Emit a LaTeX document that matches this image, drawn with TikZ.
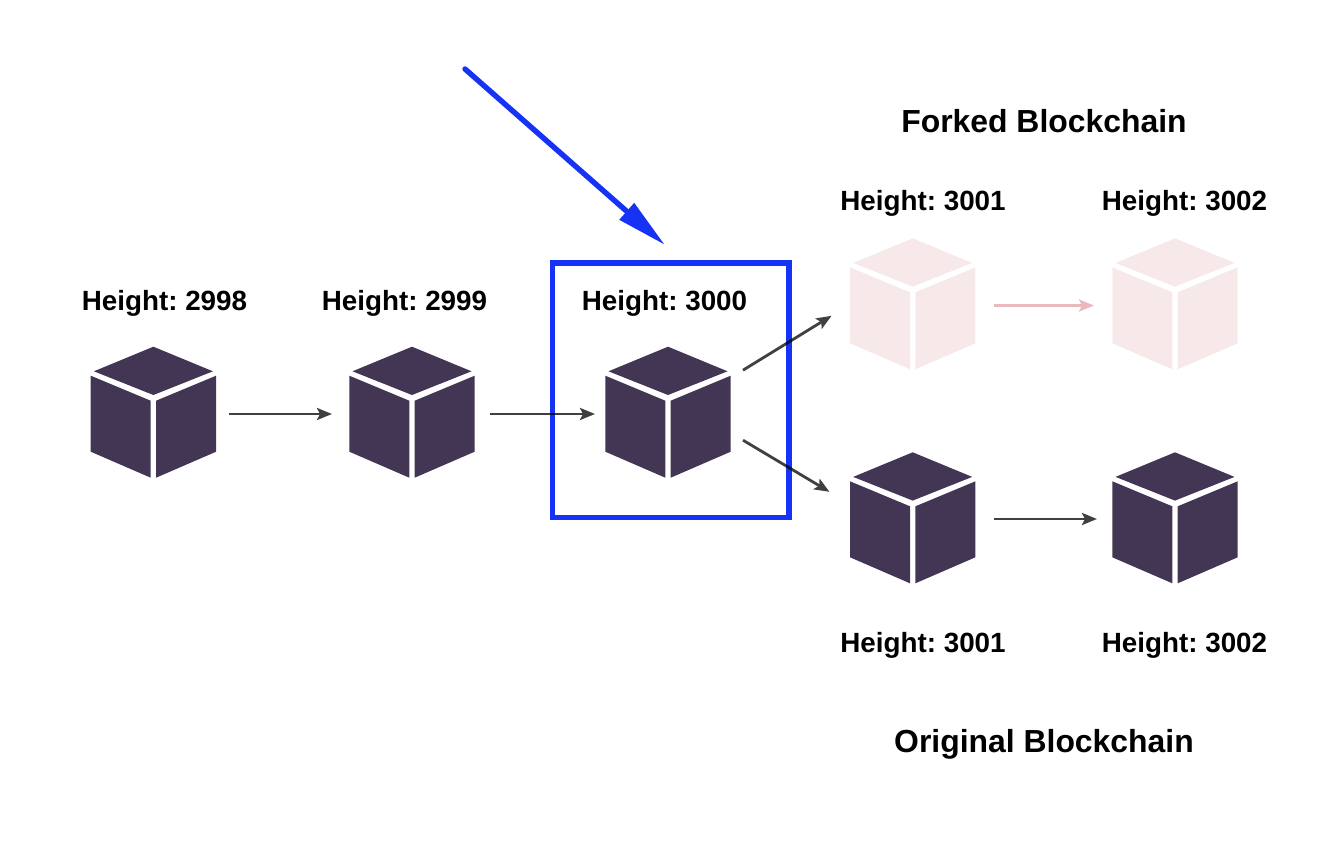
\documentclass[tikz,border=0pt]{standalone}
\usepackage{fontspec}
\setmainfont{Liberation Sans}
\usetikzlibrary{arrows.meta}
\definecolor{cubedark}{HTML}{433655}
\definecolor{cubepale}{HTML}{F7E9EA}
\definecolor{linkdark}{HTML}{404040}
\definecolor{linkpale}{HTML}{E9B9BD}
\definecolor{markblue}{HTML}{1633F5}
\tikzset{
  x=1pt,y=-1pt,
  cubeicon/.pic={
    \fill[pic actions] (0,-65.5) -- (59.5,-40.9) -- (0,-17.2) -- (-59.5,-40.9) -- cycle;
    \fill[pic actions] (-62.7,-36.5) -- (-2.7,-11.5) -- (-2.7,65.5) -- (-62.7,39.5) -- cycle;
    \fill[pic actions] (62.7,-36.5) -- (2.7,-11.5) -- (2.7,65.5) -- (62.7,39.5) -- cycle;
  },
  cubebox/.style={minimum width=125.4pt,minimum height=131pt,inner sep=0pt,outer sep=0pt},
  heightlabel/.style={font=\frenchspacing\bfseries\fontsize{27.8}{32}\selectfont,inner sep=0pt,text=black,anchor=base},
  chainlabel/.style={font=\frenchspacing\bfseries\fontsize{31.9}{38}\selectfont,inner sep=0pt,text=black,anchor=base},
  linkdarkarrow/.style={draw=linkdark,line width=2.8pt,-{Stealth[length=15pt,width=12pt,inset=3pt]}},
  linkpalearrow/.style={draw=linkpale,line width=2.6pt,-{Stealth[length=15pt,width=12pt,inset=3pt]}},
  markbox/.style={draw=markblue,line width=5.4pt,minimum width=236.5pt,minimum height=254.5pt,inner sep=0pt,outer sep=0pt,blend mode=multiply},
  markarrow/.style={draw=markblue,line width=5.4pt,line cap=round,-{Triangle[length=51pt,width=21pt]}},
}
\begin{document}
\begin{tikzpicture}
\useasboundingbox (0,0) rectangle (1342,848);
% cubes
\node[cubebox] (c1) at (153.4,412.2) {};
\node[cubebox] (c2) at (412,412.2) {};
\node[cubebox] (c3) at (668,412.2) {};
\node[cubebox] (f1) at (912.7,303.8) {};
\node[cubebox] (f2) at (1175,303.8) {};
\node[cubebox] (o1) at (912.7,517.8) {};
\node[cubebox] (o2) at (1175,517.8) {};
\pic[fill=cubedark] at (c1) {cubeicon};
\pic[fill=cubedark] at (c2) {cubeicon};
\pic[fill=cubedark] at (c3) {cubeicon};
\pic[fill=cubepale] at (f1) {cubeicon};
\pic[fill=cubepale] at (f2) {cubeicon};
\pic[fill=cubedark] at (o1) {cubeicon};
\pic[fill=cubedark] at (o2) {cubeicon};
% connectors
\draw[linkdarkarrow] ([xshift=12.9pt,yshift=-1.8pt]c1.east) -- ([xshift=-17.3pt,yshift=-1.8pt]c2.west);
\draw[linkdarkarrow] ([xshift=15.3pt,yshift=-1.8pt]c2.east) -- ([xshift=-10.3pt,yshift=-1.8pt]c3.west);
\draw[linkdarkarrow] ([xshift=12.3pt,yshift=42pt]c3.east) -- ([xshift=-18.5pt,yshift=-12pt]f1.west);
\draw[linkdarkarrow] ([xshift=12.3pt,yshift=-28pt]c3.east) -- ([xshift=-20.5pt,yshift=26pt]o1.west);
\draw[linkpalearrow] ([xshift=18.6pt,yshift=-1.7pt]f1.east) -- ([xshift=-18.3pt,yshift=-1.7pt]f2.west);
\draw[linkdarkarrow] ([xshift=18.6pt,yshift=-1.2pt]o1.east) -- ([xshift=-15.3pt,yshift=-1.2pt]o2.west);
% highlight box
\node[markbox] (mark) at (670.75,390.25) {};
\coordinate (markstart) at (465,69);
\coordinate (marktip) at (665,245);
\draw[markarrow] (markstart) -- (marktip);
% labels
\node[heightlabel] (h1) at (164.5,310) {Height: 2998};
\node[heightlabel] (h2) at (404.5,310) {Height: 2999};
\node[heightlabel] (h3) at (664.5,310) {Height: 3000};
\node[heightlabel] (h4) at (923,210.3) {Height: 3001};
\node[heightlabel] (h5) at (1184.5,210.3) {Height: 3002};
\node[heightlabel] (h6) at (923,652) {Height: 3001};
\node[heightlabel] (h7) at (1184.5,652) {Height: 3002};
\node[chainlabel] (t1) at (1044,132.7) {Forked Blockchain};
\node[chainlabel] (t2) at (1044,752) {Original Blockchain};
\end{tikzpicture}
\end{document}
